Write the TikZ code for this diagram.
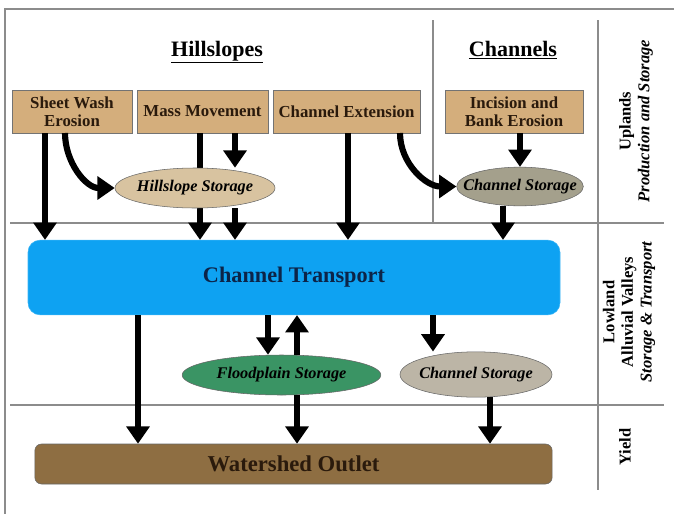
\documentclass[tikz,border=0pt]{standalone}
\usepackage{fontspec}
\setmainfont{Liberation Serif}
\usetikzlibrary{arrows.meta}
\usetikzlibrary{shapes.geometric}
\definecolor{BoxTan}{HTML}{D4AE7C}
\definecolor{LightTan}{HTML}{D8C3A0}
\definecolor{DarkGrey}{HTML}{A4A08C}
\definecolor{LightGrey}{HTML}{BCB5A6}
\definecolor{PlainGreen}{HTML}{3A9464}
\definecolor{SkyBlue}{HTML}{0EA2F2}
\definecolor{EdgeBlue}{HTML}{3DB5F5}
\definecolor{MudBrown}{HTML}{8E6E42}
\definecolor{NavyText}{HTML}{0C2448}
\definecolor{InkText}{HTML}{2A1A0C}
\definecolor{RuleGrey}{HTML}{8C8C8C}

\begin{document}
\begin{tikzpicture}[x=0.75pt, y=-0.75pt,
    source/.style={draw=black!55, fill=BoxTan, inner sep=0pt, align=center,
      text=InkText, font=\bfseries\fontsize{12.6}{13.4}\selectfont},
    store/.style={ellipse, draw=black!60, inner xsep=-14pt, inner ysep=-4pt,
      font=\bfseries\itshape\fontsize{12.2}{13}\selectfont},
    header/.style={anchor=base, font=\bfseries\fontsize{16.5}{18}\selectfont},
    flow/.style={line width=4.6pt, -{Triangle[width=17pt,length=13pt]}},
    rule/.style={RuleGrey, line width=0.9pt}]
  \useasboundingbox (0,0) rectangle (674,514);

  % frame and zones
  \draw[rule] (674,9) -- (5,9) -- (5,514);
  \draw[rule] (10,223) -- (664,223);
  \draw[rule] (10,405) -- (664,405);
  \draw[rule] (433,20) -- (433,223);
  \draw[rule] (598,20) -- (598,490);

  % headers
  \node[header] (Hills) at (217,56) {\underline{Hillslopes}};
  \node[header] (Chans) at (513,56) {\underline{Channels}};

  % sources
  \node[source, minimum width=90pt, minimum height=32pt] (SheetWash) at (72,111.5) {Sheet Wash\\Erosion};
  \node[source, minimum width=98pt, minimum height=32pt] (MassMove) at (202.5,111.5) {Mass Movement};
  \node[source, minimum width=110pt, minimum height=32pt] (ChanExt) at (346.5,111.5) {Channel Extension};
  \node[source, minimum width=103.5pt, minimum height=32pt] (Incision) at (514,111.5) {Incision and\\Bank Erosion};

  % transport and outlet
  \node[draw=EdgeBlue, fill=SkyBlue, rounded corners=9pt, minimum width=399pt, minimum height=56pt,
    text=NavyText, font=\bfseries\fontsize{16.7}{18}\selectfont] (Transport) at (294,277.5) {Channel Transport};
  \node[draw=black!60, fill=MudBrown, rounded corners=5pt, minimum width=388pt, minimum height=30pt,
    text=InkText, font=\bfseries\fontsize{17}{18}\selectfont] (Outlet) at (293.5,464) {Watershed Outlet};

  % arrows drawn below the storages
  \coordinate (MMa) at (200,133);
  \draw[flow] (MMa) -- (MMa |- Transport.north);
  \draw[flow] (SheetWash.south -| 45,0) -- (Transport.north -| 45,0);
  \draw[flow] (ChanExt.south -| 348,0) -- (Transport.north -| 348,0);
  \draw[flow] (Transport.south -| 138,0) -- (Outlet.north -| 138,0);

  % storages
  \node[store, fill=LightTan, minimum width=120pt, minimum height=30pt] (HillStore) at (195,188) {Hillslope Storage};
  \node[store, fill=DarkGrey, minimum width=95pt, minimum height=29pt] (UpStore) at (520,186.5) {Channel Storage};
  \node[store, fill=PlainGreen, minimum width=149pt, minimum height=30pt] (FloodStore) at (281.5,375) {Floodplain Storage};
  \node[store, fill=LightGrey, minimum width=114pt, minimum height=34pt] (LowStore) at (476,374.5) {Channel Storage};

  % uplands
  \draw[flow] (65,133) to[out=-90, in=180] (HillStore.west);
  \draw[flow] (400,133) to[out=-90, in=180] (UpStore.west);
  \draw[flow] (MassMove.south -| 235,0) -- (HillStore.north -| 235,0);
  \draw[flow] (Incision.south -| 520,0) -- (UpStore.north -| 520,0);
  \draw[flow] (HillStore.south -| 235,0) -- (Transport.north -| 235,0);
  \draw[flow] (UpStore.south -| 503,0) -- (Transport.north -| 503,0);

  % lowlands
  \draw[flow] (Transport.south -| 268,0) -- (FloodStore.north -| 268,0);
  \draw[flow] (FloodStore.north -| 297,0) -- (Transport.south -| 297,0);
  \draw[flow] (Transport.south -| 433,0) -- (LowStore.north -| 433,0);
  \draw[flow] (FloodStore.south -| 297,0) -- (Outlet.north -| 297,0);
  \draw[flow] (LowStore.south -| 490,0) -- (Outlet.north -| 490,0);

  % zone labels
  \node[rotate=90, align=center, font=\bfseries\fontsize{12.4}{14}\selectfont] (Uplands) at (636,121)
    {Uplands\\\itshape Production and Storage};
  \node[rotate=90, align=center, font=\bfseries\fontsize{12.4}{14}\selectfont] (Lowland) at (629,312)
    {Lowland\\Alluvial Valleys\\\itshape Storage \& Transport};
  \node[rotate=90, font=\bfseries\fontsize{12.4}{14}\selectfont] (Yield) at (625,447) {Yield};
\end{tikzpicture}
\end{document}
